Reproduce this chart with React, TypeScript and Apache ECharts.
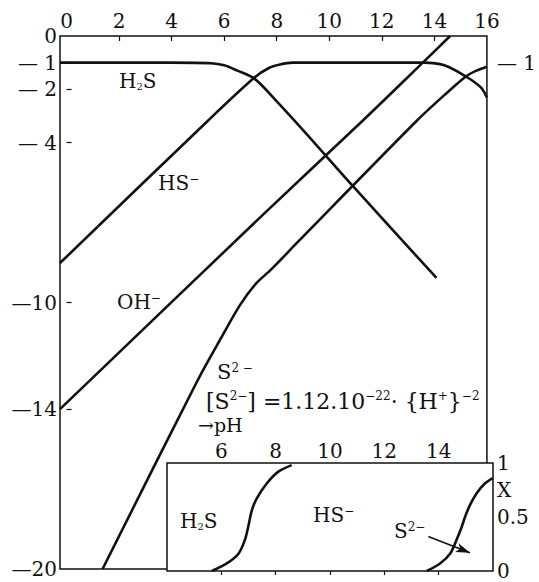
import React, { useEffect, useRef } from "react";
import * as echarts from "echarts";

// Axis ticks and labels
const phLabels = [0, 2, 4, 6, 8, 10, 12, 14, 16];
const phTicks = [2, 4, 6, 8, 10, 12, 14];
const logLabels = [0, -1, -2, -4, -10, -14, -20];
const logTicks = [-1, -2, -4, -10, -14];
const rightLogLabels = [-1];
const insetPhLabels = [6, 8, 10, 12, 14];
const insetFractionLabels = [0, 0.5, 0.75, 1];
const insetFractionTicks = [0.5];

// log concentration vs pH, total sulfide 0.1 M
const h2sLog = [
  [-0.25, -1.0], [2, -1.0], [4, -1.0], [5.5, -1.02], [6.0, -1.1], [6.5, -1.3],
  [7.15, -1.6], [8, -2.45], [9.13, -3.67], [10.85, -5.58], [14.08, -9.08],
];
const hsLog = [
  [-0.25, -8.52], [5.38, -3.18], [7.15, -1.56], [7.7, -1.2], [8.12, -1.07], [8.6, -1.0],
  [11, -1.0], [13.6, -1.0], [14.38, -1.1], [15.2, -1.52], [15.77, -1.93], [16, -2.31],
];
const ohLog = [[-0.25, -14.0], [7.63, -6.56], [11.27, -3.18], [13.56, -1.0], [14.6, 0]];
const s2Log = [
  [1.37, -20], [5.0, -12.9], [5.9, -11.3], [6.6, -10.1], [7.2, -9.3],
  [7.8, -8.75], [8.83, -7.7], [13.33, -3.18], [14.4, -2.2], [15.2, -1.52], [15.6, -1.3],
  [16, -1.15],
];

// fraction curves for the inset
const insetHsFraction = [
  [5.65, 0], [6.2, 0.07], [6.63, 0.16], [6.87, 0.29], [6.99, 0.41], [7.12, 0.56],
  [7.3, 0.67], [7.67, 0.81], [8.1, 0.92], [8.59, 0.98],
];
const insetS2Fraction = [
  [13.56, 0], [14.05, 0.07], [14.42, 0.16], [14.66, 0.29], [14.85, 0.41], [14.97, 0.5],
  [15.15, 0.61], [15.4, 0.72], [15.7, 0.81], [15.99, 0.86],
];
const s2PointerFrom = [13.62, 0.32];
const s2PointerTo = [15.15, 0.17];

const INK = "#111";
const SERIF = '"DejaVu Serif", "Liberation Serif", serif';

const richParts = {
  sup: { fontSize: 12, fontFamily: SERIF, fill: INK, color: INK, lineHeight: 10, verticalAlign: "top" },
  sub: { fontSize: 10, fontFamily: SERIF, fill: INK, color: INK, lineHeight: 10, verticalAlign: "bottom" },
};

function note(text: string, x: number, y: number, fontSize = 20) {
  return {
    type: "text",
    x,
    y,
    silent: true,
    style: {
      text,
      rich: richParts,
      fontSize,
      fontFamily: SERIF,
      fill: INK,
      align: "left",
      verticalAlign: "middle",
    },
  };
}

const curveStyle = { color: INK, width: 2.6 };

function curve(data: number[][], xAxisIndex = 0, yAxisIndex = 0) {
  return {
    type: "line",
    data,
    xAxisIndex,
    yAxisIndex,
    showSymbol: false,
    smooth: 0.3,
    lineStyle: curveStyle,
    silent: true,
    z: 3,
  };
}

export default function App() {
  const ref = useRef<HTMLDivElement>(null);

  useEffect(() => {
    if (!ref.current) return;
    const chart = echarts.init(ref.current, null, { renderer: "svg" });
    const labelFont = { fontFamily: SERIF, fontSize: 20, color: INK };
    chart.setOption({
      animation: false,
      backgroundColor: "#fff",
      grid: [
        { left: 60, top: 36, width: 433, height: 533, show: true, borderColor: INK, borderWidth: 1.5, backgroundColor: "transparent", z: 1 },
        { left: 167, top: 463, width: 326, height: 108, show: true, borderColor: INK, borderWidth: 1.5, backgroundColor: "#fff", z: 4 },
      ],
      xAxis: [
        {
          type: "value", gridIndex: 0, position: "top", min: -0.25, max: 16,
          axisLine: { show: false }, splitLine: { show: false },
          axisTick: { show: true, inside: true, length: 5, customValues: phTicks, lineStyle: { color: INK, width: 1.2 } },
          axisLabel: { ...labelFont, margin: 5, customValues: phLabels },
        },
        {
          type: "value", gridIndex: 1, position: "top", min: 4, max: 16,
          axisLine: { show: false }, splitLine: { show: false },
          axisTick: { show: true, inside: true, length: 4, customValues: insetPhLabels, lineStyle: { color: INK, width: 1.2 } },
          axisLabel: { ...labelFont, margin: 2, customValues: insetPhLabels },
        },
      ],
      yAxis: [
        {
          type: "value", gridIndex: 0, position: "left", min: -20, max: 0,
          axisLine: { show: false }, splitLine: { show: false },
          axisTick: { show: true, inside: true, length: 5, customValues: logTicks, lineStyle: { color: INK, width: 1.2 } },
          axisLabel: {
            ...labelFont, margin: 3, customValues: logLabels,
            formatter: (v: number) => (v === 0 ? "0" : Math.abs(v) < 10 ? "— " + Math.abs(v) : "—" + Math.abs(v)),
          },
        },
        {
          type: "value", gridIndex: 0, position: "right", min: -20, max: 0,
          axisLine: { show: false }, splitLine: { show: false }, axisTick: { show: false },
          axisLabel: { ...labelFont, margin: 10, customValues: rightLogLabels, formatter: (v: number) => "— " + Math.abs(v) },
        },
        {
          type: "value", gridIndex: 1, position: "right", min: 0, max: 1,
          axisLine: { show: false }, splitLine: { show: false },
          axisTick: { show: true, inside: true, length: 5, customValues: insetFractionTicks, lineStyle: { color: INK, width: 1.2 } },
          axisLabel: {
            ...labelFont, margin: 4, customValues: insetFractionLabels,
            formatter: (v: number) => (v === 0.75 ? "X" : String(v)),
          },
        },
      ],
      series: [
        curve(h2sLog),
        curve(hsLog),
        curve(ohLog),
        curve(s2Log),
        { ...curve(insetHsFraction, 1, 2), z: 6 },
        {
          ...curve(insetS2Fraction, 1, 2),
          z: 6,
          markLine: {
            silent: true,
            symbol: ["none", "arrow"],
            symbolSize: [7, 14],
            label: { show: false },
            lineStyle: { color: INK, width: 1.6, type: "solid" },
            data: [[{ coord: s2PointerFrom }, { coord: s2PointerTo }]],
          },
        },
      ],
      graphic: [
        note("H{sub|2}S", 119, 81),
        note("HS{sup|−}", 158, 183),
        note("OH{sup|−}", 117, 302),
        note("S{sup|2 −}", 217, 372, 21),
        note("[S{sup|2−}] =1.12.10{sup|−22}· {H{sup|+}}{sup|−2}", 206, 401, 22),
        note("→pH", 198, 425, 19),
        { ...note("H{sub|2}S", 180, 521), z: 10 },
        { ...note("HS{sup|−}", 313, 515), z: 10 },
        { ...note("S{sup|2−}", 394, 531), z: 10 },
      ],
    });
    return () => chart.dispose();
  }, []);

  return <div ref={ref} style={{ position: "fixed", left: 0, top: 0, width: 539, height: 582 }} />;
}
